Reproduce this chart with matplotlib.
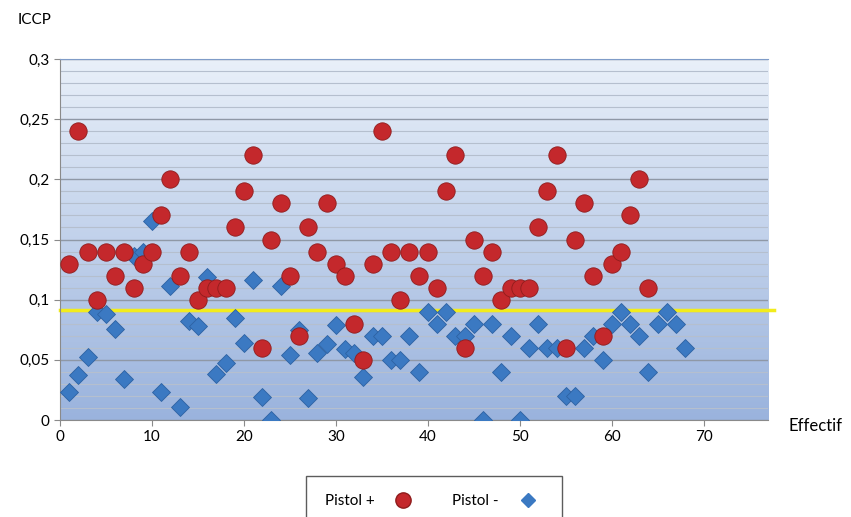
import numpy as np
import matplotlib
matplotlib.use("Agg")
import matplotlib.pyplot as plt
from matplotlib.ticker import MultipleLocator, FuncFormatter
from matplotlib.lines import Line2D

plt.rcParams['font.family'] = ['Lato', 'DejaVu Sans']

# ICCP per subject
pistol_plus = [0.13, 0.24, 0.14, 0.10, 0.14, 0.12, 0.14, 0.11, 0.13, 0.14,
               0.17, 0.20, 0.12, 0.14, 0.10, 0.11, 0.11, 0.11, 0.16, 0.19,
               0.22, 0.06, 0.15, 0.18, 0.12, 0.07, 0.16, 0.14, 0.18, 0.13,
               0.12, 0.08, 0.05, 0.13, 0.24, 0.14, 0.10, 0.14, 0.12, 0.14,
               0.11, 0.19, 0.22, 0.06, 0.15, 0.12, 0.14, 0.10, 0.11, 0.11,
               0.11, 0.16, 0.19, 0.22, 0.06, 0.15, 0.18, 0.12, 0.07, 0.13,
               0.14, 0.17, 0.20, 0.11]
pistol_minus = [0.023, 0.037, 0.052, 0.090, 0.088, 0.076, 0.034, 0.136, 0.140, 0.165,
                0.023, 0.111, 0.011, 0.082, 0.078, 0.119, 0.038, 0.047, 0.085, 0.064,
                0.116, 0.019, 0.000, 0.111, 0.054, 0.075, 0.018, 0.056, 0.063, 0.079,
                0.059, 0.056, 0.036, 0.070, 0.070, 0.050, 0.050, 0.070, 0.040, 0.090,
                0.080, 0.090, 0.070, 0.070, 0.080, 0.000, 0.080, 0.040, 0.070, 0.000,
                0.060, 0.080, 0.060, 0.060, 0.020, 0.020, 0.060, 0.070, 0.050, 0.080,
                0.090, 0.080, 0.070, 0.040, 0.080, 0.090, 0.080, 0.060]
seuil = 0.0915

x_plus = np.arange(1, len(pistol_plus) + 1)
x_minus = np.arange(1, len(pistol_minus) + 1)

fig = plt.figure(figsize=(8.51, 5.17), dpi=100)
ax = fig.add_axes([0.0705, 0.1876, 0.832, 0.6983])
ax.set_xlim(0, 77)
ax.set_ylim(0, 0.3)

# gradient background
grad = np.linspace(0, 1, 256).reshape(-1, 1)
cmap = matplotlib.colors.LinearSegmentedColormap.from_list("bg", ["#9ab3dd", "#e9f0f9"])
ax.imshow(grad, cmap=cmap, aspect='auto', extent=[0, 77, 0, 0.3], origin='lower', zorder=0)

ax.yaxis.set_major_locator(MultipleLocator(0.05))
ax.yaxis.set_minor_locator(MultipleLocator(0.01))
ax.xaxis.set_major_locator(MultipleLocator(10))
ax.grid(True, which='major', axis='y', color='#8f98a6', lw=1.0, zorder=1)
ax.grid(True, which='minor', axis='y', color='#b5bfce', lw=0.8, zorder=1)
ax.yaxis.set_major_formatter(FuncFormatter(lambda v, p: ("%g" % round(v, 2)).replace('.', ',')))

ax.spines['right'].set_visible(False)
ax.spines['top'].set_color('#7f9cc8')
ax.spines['left'].set_color('#8a8a8a')
ax.spines['bottom'].set_color('#8a8a8a')
ax.tick_params(axis='both', which='major', labelsize=11, color='#8a8a8a', length=4)
ax.tick_params(axis='y', which='minor', length=0)

ax.plot(x_minus, pistol_minus, 'D', ms=9, color='#3b79c2', mec='#2d62a3', mew=0.6, zorder=3)
ax.plot(x_plus, pistol_plus, 'o', ms=12.5, color='#c4282c', mec='#8f1c1c', mew=0.6, zorder=4)
ax.plot([0, 77.6], [seuil, seuil], color='#f2ec1c', lw=2.5, zorder=2, clip_on=False)

fig.text(18 / 851, 1 - 20 / 517, "ICCP", fontsize=11, va='center', ha='left')
fig.text(788 / 851, 1 - 426 / 517, "Effectif", fontsize=12, va='center', ha='left')

handles = [Line2D([], [], ls='', marker='o', ms=11, color='#c4282c', mec='#8f1c1c'),
           Line2D([], [], ls='', marker='D', ms=7, color='#3b79c2')]
leg = fig.legend(handles, ["Pistol +", "Pistol -"], ncol=2, markerfirst=False,
                 loc='upper center', bbox_to_anchor=(434 / 851, 1 - 476 / 517),
                 fontsize=11, frameon=True, fancybox=False, edgecolor='#333333',
                 borderpad=1.2, columnspacing=2.2, handletextpad=0.9, borderaxespad=0)

fig.savefig("out.png", dpi=100)
